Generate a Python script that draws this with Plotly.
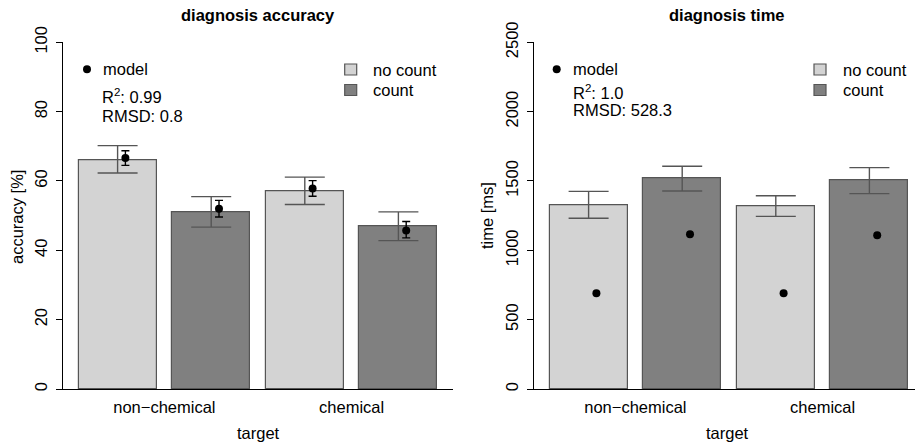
import plotly.graph_objects as go

W, H = 915, 445

categories = ["non\u2212chemical", "chemical"]
conditions = ["no count", "count"]

# accuracy [%] (data)
acc_nocount = [66.1, 57.1]
acc_nocount_hi = [70.2, 61.1]
acc_nocount_lo = [62.3, 53.2]
acc_count = [51.1, 46.8]
acc_count_hi = [55.5, 51.1]
acc_count_lo = [46.7, 42.8]
# accuracy model
acc_model_nocount = [66.6, 57.8]
acc_model_nocount_hi = [68.7, 60.1]
acc_model_nocount_lo = [64.5, 55.6]
acc_model_count = [52.0, 45.7]
acc_model_count_hi = [54.4, 48.3]
acc_model_count_lo = [49.6, 43.6]

# time [ms] (data)
time_nocount = [1327, 1317]
time_nocount_hi = [1425, 1394]
time_nocount_lo = [1231, 1245]
time_count = [1517, 1502]
time_count_hi = [1606, 1596]
time_count_lo = [1428, 1409]
# time model
time_model_nocount = [690, 690]
time_model_count = [1115, 1108]

acc_ticks = [0, 20, 40, 60, 80, 100]
time_ticks = [0, 500, 1000, 1500, 2000, 2500]

FONT = "Liberation Sans, Arial, Helvetica, sans-serif"
FS = 16.5
LIGHT = "#d3d3d3"
DARK = "#808080"
EDGE = "#555555"


def px(x):
    return x / W


def py(y):
    return 1 - y / H


def interleave(a, b):
    out = []
    for u, v in zip(a, b):
        out += [u, v]
    return out


# bar positions (R barplot style: width 1, space 0.2)
bar_x = [0.2 + 0.5 + i * 1.2 for i in range(4)]
model_x = [x + 0.1 for x in bar_x]
group_x = [(bar_x[0] + bar_x[1]) / 2, (bar_x[2] + bar_x[3]) / 2]
bar_colors = [LIGHT, DARK, LIGHT, DARK]

fig = go.Figure()


def add_panel(means_nc, hi_nc, lo_nc, means_c, hi_c, lo_c, xa, ya):
    means = interleave(means_nc, means_c)
    hi = interleave(hi_nc, hi_c)
    lo = interleave(lo_nc, lo_c)
    fig.add_trace(go.Bar(
        x=bar_x, y=means, width=1.0, xaxis=xa, yaxis=ya,
        marker=dict(color=bar_colors, line=dict(color=EDGE, width=1.2)),
        error_y=dict(type="data", symmetric=False,
                     array=[h - m for h, m in zip(hi, means)],
                     arrayminus=[m - l for l, m in zip(lo, means)],
                     color=EDGE, thickness=1.4, width=20),
        showlegend=False, hoverinfo="skip"))


add_panel(acc_nocount, acc_nocount_hi, acc_nocount_lo,
          acc_count, acc_count_hi, acc_count_lo, "x", "y")
add_panel(time_nocount, time_nocount_hi, time_nocount_lo,
          time_count, time_count_hi, time_count_lo, "x2", "y2")

am = interleave(acc_model_nocount, acc_model_count)
amh = interleave(acc_model_nocount_hi, acc_model_count_hi)
aml = interleave(acc_model_nocount_lo, acc_model_count_lo)
fig.add_trace(go.Scatter(
    x=model_x, y=am, mode="markers", xaxis="x", yaxis="y",
    marker=dict(color="black", size=8),
    error_y=dict(type="data", symmetric=False,
                 array=[h - m for h, m in zip(amh, am)],
                 arrayminus=[m - l for l, m in zip(aml, am)],
                 color="black", thickness=1.4, width=4),
    showlegend=False, hoverinfo="skip"))

tm = interleave(time_model_nocount, time_model_count)
fig.add_trace(go.Scatter(
    x=model_x, y=tm, mode="markers", xaxis="x2", yaxis="y2",
    marker=dict(color="black", size=8),
    showlegend=False, hoverinfo="skip"))

ydom = [py(389), py(42.3)]
common_x = dict(showline=True, linecolor="black", linewidth=1, ticks="",
                showgrid=False, zeroline=False, tickvals=group_x,
                ticktext=categories, tickfont=dict(size=FS, color="black"),
                ticklabelstandoff=3, automargin=False)
common_y = dict(showline=True, linecolor="black", linewidth=1, ticks="outside",
                ticklen=6, tickcolor="black", showgrid=False, zeroline=False,
                tickangle=-90, tickfont=dict(size=FS, color="black"),
                ticklabelstandoff=2, automargin=False)

fig.update_layout(
    template="none",
    width=W, height=H,
    margin=dict(l=0, r=0, t=0, b=0, pad=0),
    paper_bgcolor="white", plot_bgcolor="white",
    font=dict(family=FONT, size=FS, color="black"),
    bargap=0,
    xaxis=dict(domain=[px(63), px(453)], range=[0, 5.0], anchor="y", **common_x),
    yaxis=dict(domain=ydom, range=[0, 100], tickvals=acc_ticks, anchor="x", **common_y),
    xaxis2=dict(domain=[px(534), 1.0], range=[0, 381 / 78], anchor="y2", **common_x),
    yaxis2=dict(domain=ydom, range=[0, 2500], tickvals=time_ticks, anchor="x2", **common_y),
)

ann = []


def text(x, y, s, xanchor="left", bold=False, angle=0):
    ann.append(dict(x=px(x), y=py(y), xref="paper", yref="paper", text=s,
                    showarrow=False, xanchor=xanchor, yanchor="middle",
                    textangle=angle,
                    font=dict(size=FS, color="black", family=FONT,
                              weight="bold" if bold else "normal")))


# titles
text(258.3, 15, "diagnosis accuracy", "center", bold=True)
text(727.3, 15, "diagnosis time", "center", bold=True)
# axis titles
text(17, 217, "accuracy [%]", "center", angle=-90)
text(258.3, 433, "target", "center")
text(487, 216, "time [ms]", "center", angle=-90)
text(727.3, 433, "target", "center")

shapes = []


def legend_block(dot_x, dot_y, r2_text, rmsd_text, r2_y, rmsd_y, text_x, stat_x,
                 sq_x, sq_text_x):
    shapes.append(dict(type="circle", xref="paper", yref="paper",
                       x0=px(dot_x - 4), x1=px(dot_x + 4),
                       y0=py(dot_y + 4), y1=py(dot_y - 4),
                       fillcolor="black", line=dict(width=0)))
    text(text_x, dot_y, "model")
    text(stat_x, r2_y, r2_text)
    text(stat_x, rmsd_y, rmsd_text)
    for yy, col, lab in [(69.5, LIGHT, conditions[0]), (90, DARK, conditions[1])]:
        shapes.append(dict(type="rect", xref="paper", yref="paper",
                           x0=px(sq_x - 6), x1=px(sq_x + 6),
                           y0=py(yy + 5.5), y1=py(yy - 5.5),
                           fillcolor=col, line=dict(color=EDGE, width=1.2)))
        text(sq_text_x, yy, lab)


legend_block(87, 69.3, "R<sup>2</sup>: 0.99", "RMSD: 0.8", 96, 115.7, 101, 99.5,
             350.7, 371)
legend_block(556.7, 69.3, "R<sup>2</sup>: 1.0", "RMSD: 528.3", 92.5, 110, 571, 571,
             820, 841)

fig.update_layout(annotations=ann, shapes=shapes)

fig.write_html("out.html", post_script="document.body.style.margin='0';",
               config={"displayModeBar": False})
